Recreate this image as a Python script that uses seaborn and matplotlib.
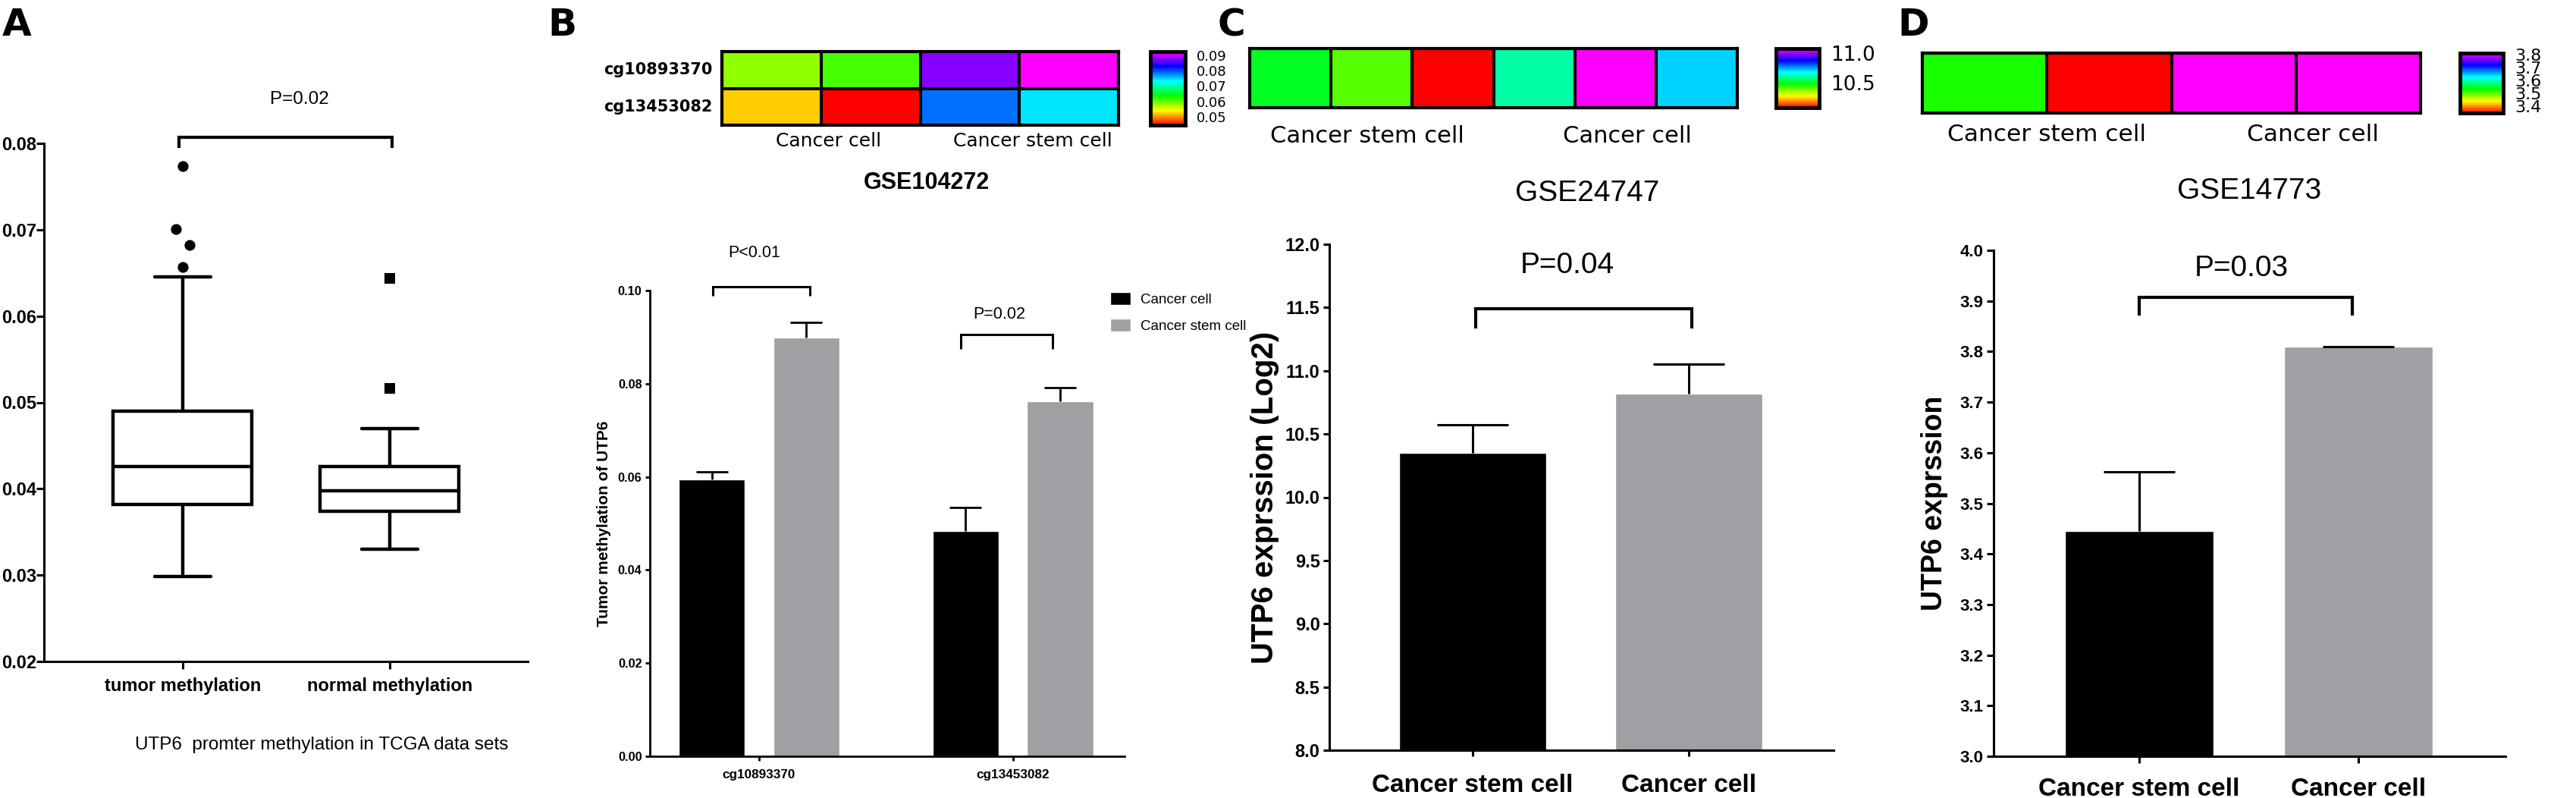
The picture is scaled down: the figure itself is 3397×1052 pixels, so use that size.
import pandas as pd
import seaborn as sns
import matplotlib.pyplot as plt
from matplotlib.colors import LinearSegmentedColormap
from matplotlib.lines import Line2D

# panel A
box_groups = ["tumor methylation", "normal methylation"]
tumor_summary = [0.0298, 0.0382, 0.0426, 0.0490, 0.0645]
normal_summary = [0.0330, 0.0374, 0.0398, 0.0426, 0.0470]
tumor_fliers = [0.0774, 0.0701, 0.0682, 0.0657]
normal_fliers = [0.0644, 0.0516]
a_ticks = [0.02, 0.03, 0.04, 0.05, 0.06, 0.07, 0.08]

# panel B
b_probes = ["cg10893370", "cg13453082"]
b_groups = ["Cancer cell", "Cancer stem cell"]
b_cancer = [0.0594, 0.0483]
b_stem = [0.0899, 0.0763]
b_cancer_err = [0.0016, 0.0052]
b_stem_err = [0.0033, 0.0028]
b_heat = [[0.0583, 0.0610, 0.0880, 0.0925],
          [0.0522, 0.0445, 0.0787, 0.0743]]
b_ticks = [0.00, 0.02, 0.04, 0.06, 0.08, 0.10]
b_cbar_ticks = [0.05, 0.06, 0.07, 0.08, 0.09]

# panel C
c_groups = ["Cancer stem cell", "Cancer cell"]
c_values = [10.35, 10.82]
c_err = [0.22, 0.23]
c_heat = [[10.507, 10.413, 10.08, 10.61, 11.08, 10.713]]
c_ticks = [8.0, 8.5, 9.0, 9.5, 10.0, 10.5, 11.0, 11.5, 12.0]
c_cbar_ticks = [10.5, 11.0]

# panel D
d_groups = ["Cancer stem cell", "Cancer cell"]
d_values = [3.445, 3.81]
d_err = [0.117, 0.0]
d_heat = [[3.522, 3.345, 3.81, 3.81]]
d_ticks = [3.0, 3.1, 3.2, 3.3, 3.4, 3.5, 3.6, 3.7, 3.8, 3.9, 4.0]
d_cbar_ticks = [3.4, 3.5, 3.6, 3.7, 3.8]

W, H = 3397, 1052
BLACK = "#000000"
GRAY = "#A0A0A4"

sns.set_theme(style="ticks")
plt.rcParams["font.family"] = ["Liberation Sans", "DejaVu Sans"]

fig = plt.figure(figsize=(W / 100, H / 100), dpi=100, facecolor="white")
rainbow = LinearSegmentedColormap.from_list(
    "rainbow_rm", ["#FF0000", "#FFFF00", "#00FF00", "#00FFFF", "#0000FF", "#FF00FF"])


def px_axes(left, top, right, bottom):
    return fig.add_axes([left / W, 1 - bottom / H, (right - left) / W, (bottom - top) / H])


def px_text(x, y, s, size, ha="center", va="center", **kw):
    fig.text(x / W, 1 - y / H, s, fontsize=size, ha=ha, va=va, color="black", **kw)


def bracket(x0, x1, top, bottom, lw):
    xs = [x0 / W, x0 / W, x1 / W, x1 / W]
    ys = [1 - bottom / H, 1 - top / H, 1 - top / H, 1 - bottom / H]
    fig.add_artist(Line2D(xs, ys, color="black", lw=lw, solid_joinstyle="miter", solid_capstyle="butt"))


def style_axes(ax, xsize, ysize, ticklen, lw, xpad, ypad):
    sns.despine(ax=ax)
    for side in ["left", "bottom"]:
        ax.spines[side].set_linewidth(lw)
        ax.spines[side].set_color("black")
    ax.tick_params(axis="both", length=ticklen, width=lw, color="black", labelcolor="black")
    ax.tick_params(axis="x", labelsize=xsize, pad=xpad)
    ax.tick_params(axis="y", labelsize=ysize, pad=ypad)
    for lab in ax.get_xticklabels() + ax.get_yticklabels():
        lab.set_fontweight("bold")
    ax.set_xlabel("")


def add_errors(ax, tops_err, capsize, lw):
    # bars come from the library, only the upper arm is shown
    for bar, err in zip(ax.patches, tops_err):
        x = bar.get_x() + bar.get_width() / 2
        _, caps, _ = ax.errorbar(x, bar.get_height(), yerr=[[0], [err]], color="black",
                                 elinewidth=lw, capsize=capsize, capthick=lw)
        caps[0].set_visible(False)


def heat(values, hm_box, cb_box, vmin, vmax, cb_ticks, cb_fmt, cb_size, rows=None):
    hm_ax = px_axes(*hm_box)
    cb_ax = px_axes(*cb_box)
    sns.heatmap(pd.DataFrame(values), cmap=rainbow, vmin=vmin, vmax=vmax, linewidths=1.5,
                linecolor="black", ax=hm_ax, cbar_ax=cb_ax, xticklabels=False,
                yticklabels=rows if rows else False)
    for sp in hm_ax.spines.values():
        sp.set_visible(True)
        sp.set_linewidth(3)
        sp.set_color("black")
    if rows:
        hm_ax.tick_params(axis="y", length=0, pad=9, labelrotation=0)
        for lab in hm_ax.get_yticklabels():
            lab.set_fontfamily("DejaVu Sans")
            lab.set_fontweight("bold")
            lab.set_fontsize(15)
            lab.set_color("black")
    cb = hm_ax.collections[0].colorbar
    cb.outline.set_visible(True)
    cb.outline.set_linewidth(3.5)
    cb.outline.set_edgecolor("black")
    cb.set_ticks(cb_ticks)
    cb.set_ticklabels([cb_fmt % t for t in cb_ticks])
    cb_ax.tick_params(axis="y", left=True, right=True, direction="in", length=6, width=2,
                      color="black", labelcolor="black", pad=11, labelsize=cb_size)
    for lab in cb_ax.get_yticklabels():
        lab.set_fontfamily("DejaVu Sans")


# A: box plot
ax = px_axes(58, 189, 696, 872)
box_df = pd.DataFrame({
    "group": [box_groups[0]] * 5 + [box_groups[1]] * 5,
    "value": tumor_summary + normal_summary,
})
sns.boxplot(data=box_df, x="group", y="value", color="white", linecolor="black", linewidth=3.2,
            width=0.67, whis=(0, 100), showfliers=False, capwidths=0.27, saturation=1, ax=ax)
sns.scatterplot(x=[0, -0.033, 0.033, 0], y=tumor_fliers, marker="o", s=105, color="black",
                linewidth=0, ax=ax)
sns.scatterplot(x=[1, 1], y=normal_fliers, marker="s", s=95, color="black", linewidth=0, ax=ax)
ax.set_xlim(-0.67, 1.667)
ax.set_ylim(0.02, 0.08)
ax.set_yticks(a_ticks)
ax.set_yticklabels(["%.2f" % t for t in a_ticks])
ax.set_ylabel("")
style_axes(ax, 17, 17, 7, 2.2, 8, 0)

px_text(395, 131, "P=0.02", 17.5)
bracket(236, 517, 181, 195, 3)
px_text(424, 982, "UTP6  promter methylation in TCGA data sets", 17.5)

# B: grouped bars
ax = px_axes(857, 383, 1483, 997)
b_df = pd.DataFrame({
    "probe": b_probes * 2,
    "group": [b_groups[0]] * 2 + [b_groups[1]] * 2,
    "value": b_cancer + b_stem,
})
sns.barplot(data=b_df, x="probe", y="value", hue="group", palette=[BLACK, GRAY], width=0.744,
            gap=0.3, saturation=1, errorbar=None, ax=ax)
add_errors(ax, b_cancer_err + b_stem_err, 15, 2)
ax.set_xlim(-0.43, 1.44)
ax.set_ylim(0, 0.10)
ax.set_yticks(b_ticks)
ax.set_yticklabels(["%.2f" % t for t in b_ticks])
ax.set_ylabel("Tumor methylation of UTP6", fontsize=15, fontweight="bold", color="black")
ax.yaxis.set_label_coords((806 - 857) / (1483 - 857), 0.5)
style_axes(ax, 12.3, 11.7, 4.5, 2, 8, 3)
handles, labels = ax.get_legend_handles_labels()
ax.legend(handles, labels, loc="upper left", bbox_to_anchor=(1464 / W, 1 - 385 / H),
          bbox_transform=fig.transFigure, frameon=False, fontsize=13.5, handlelength=1.44,
          handleheight=1.0, handletextpad=0.7, labelspacing=0.85, borderaxespad=0, borderpad=0,
          labelcolor="black")

heat(b_heat, (952, 68, 1475, 165), (1517, 68, 1563, 165), 0.0445, 0.0925, b_cbar_ticks,
     "%.2f", 13, rows=b_probes)
px_text(1093, 186, "Cancer cell", 18, family="DejaVu Sans")
px_text(1362, 186, "Cancer stem cell", 18, family="DejaVu Sans")
px_text(1222, 241, "GSE104272", 22, fontweight="bold")
px_text(995, 333, "P<0.01", 15.5)
px_text(1318, 414, "P=0.02", 15.5)
bracket(940, 1068, 378, 390, 2.2)
bracket(1267, 1388, 441, 460, 2.2)

# C: two bars
ax = px_axes(1753, 322, 2418, 989)
sns.barplot(x=c_groups, y=c_values, hue=c_groups, palette=[BLACK, GRAY], width=0.68, saturation=1,
            errorbar=None, legend=False, ax=ax)
add_errors(ax, c_err, 34, 2.2)
ax.set_xlim(-0.663, 1.67)
ax.set_ylim(8, 12)
ax.set_yticks(c_ticks)
ax.set_yticklabels(["%.1f" % t for t in c_ticks])
ax.set_ylabel("UTP6 exprssion (Log2)", fontsize=29, fontweight="bold", color="black")
ax.yaxis.set_label_coords((1687 - 1753) / (2418 - 1753), 0.5)
style_axes(ax, 24, 17, 6, 2.2, 16, 3)

heat(c_heat, (1648, 64, 2291, 142), (2342, 64, 2399, 142), 10.08, 11.08, c_cbar_ticks,
     "%.1f", 19)
px_text(1803, 180, "Cancer stem cell", 22, family="DejaVu Sans")
px_text(2146, 180, "Cancer cell", 22, family="DejaVu Sans")
px_text(2093, 255, "GSE24747", 28)
px_text(2067, 350, "P=0.04", 28)
bracket(1946, 2231, 407, 433, 3)

# D: two bars
ax = px_axes(2629, 330, 3304, 997)
sns.barplot(x=d_groups, y=d_values, hue=d_groups, palette=[BLACK, GRAY], width=0.68, saturation=1,
            errorbar=None, legend=False, ax=ax)
add_errors(ax, d_err, 34, 2.2)
ax.set_xlim(-0.664, 1.671)
ax.set_ylim(3, 4)
ax.set_yticks(d_ticks)
ax.set_yticklabels(["%.1f" % t for t in d_ticks])
ax.set_ylabel("UTP6 exprssion", fontsize=27, fontweight="bold", color="black")
ax.yaxis.set_label_coords((2569 - 2629) / (3304 - 2629), 0.5)
style_axes(ax, 24, 16, 6.5, 2.2, 13.5, 3)

heat(d_heat, (2535, 70, 3192, 149), (3244, 70, 3301, 149), 3.345, 3.81, d_cbar_ticks,
     "%.1f", 16)
px_text(2699, 177, "Cancer stem cell", 22.5, family="DejaVu Sans")
px_text(3050, 177, "Cancer cell", 22.5, family="DejaVu Sans")
px_text(2966, 252, "GSE14773", 28)
px_text(2956, 354, "P=0.03", 28)
bracket(2821, 3102, 392, 416, 3)

# panel letters
for x, letter in zip([3, 722, 1606, 2502], ["A", "B", "C", "D"]):
    px_text(x, 47, letter, 36, ha="left", va="baseline", family="DejaVu Sans", fontweight="bold")

fig.savefig("out.png", dpi=100)
